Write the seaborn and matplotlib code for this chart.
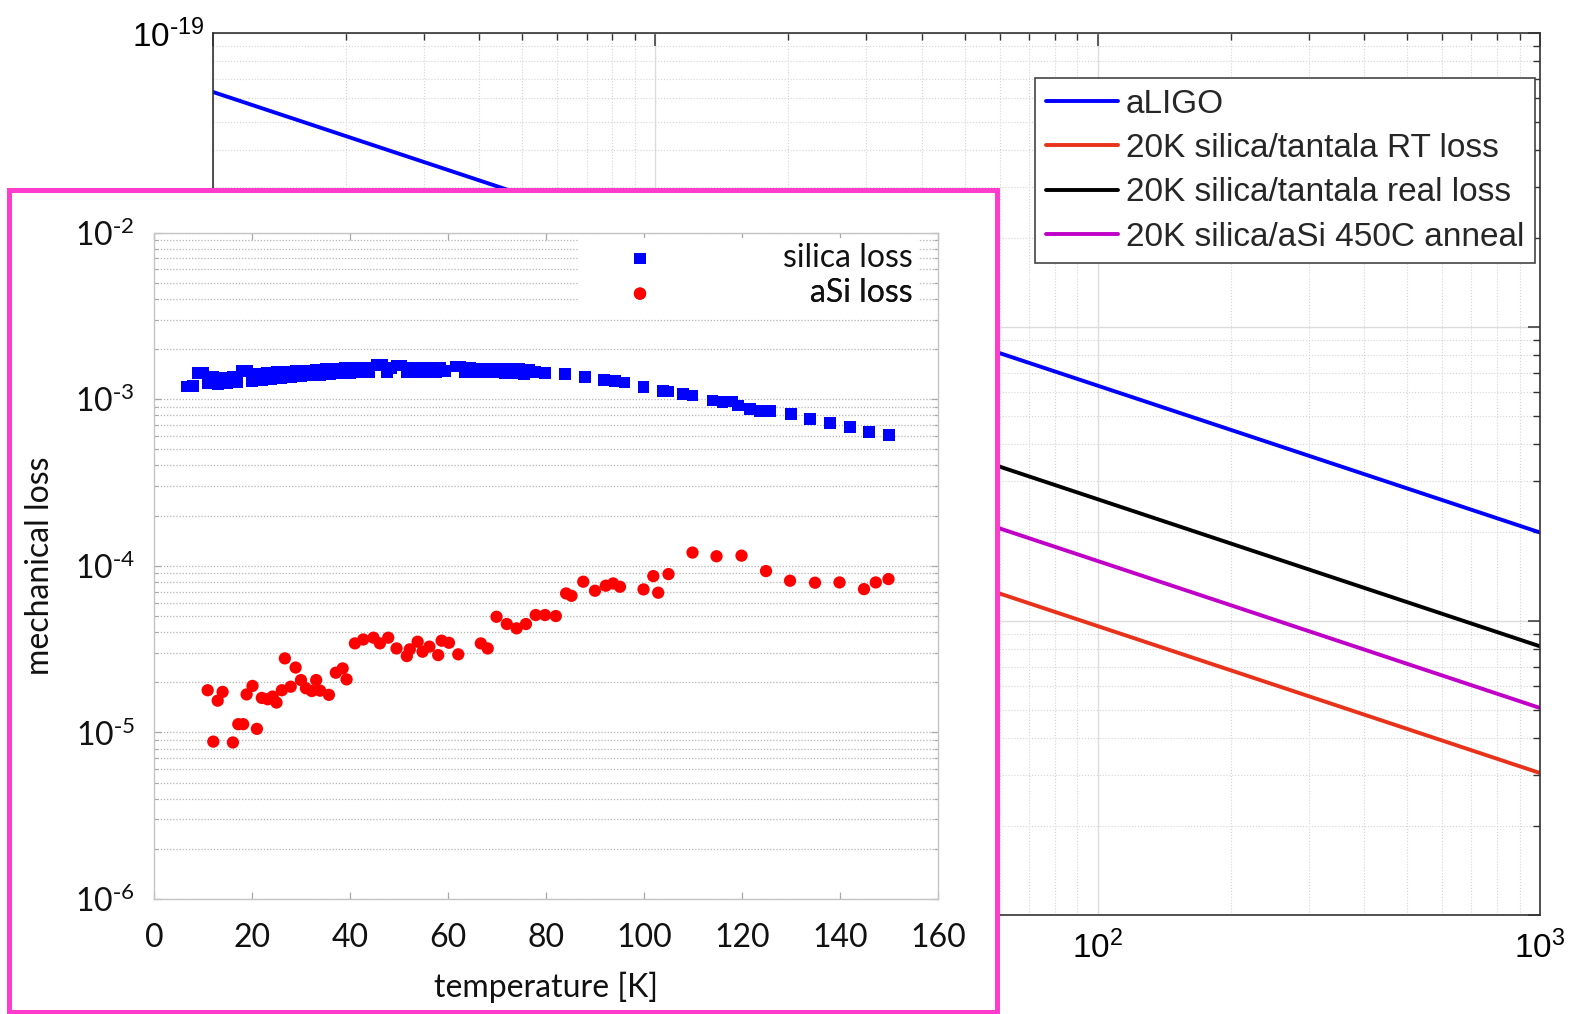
import numpy as np
import matplotlib
matplotlib.use("Agg")
import matplotlib.pyplot as plt
import seaborn as sns
from matplotlib.patches import Rectangle
from matplotlib.ticker import LogLocator, FuncFormatter, NullFormatter

# ---------------- coating thermal noise curves (straight on log-log) ----------------
freq_end = [1, 1000]  # Hz
curve_names = ["aLIGO",
               "20K silica/tantala RT loss",
               "20K silica/tantala real loss",
               "20K silica/aSi 450C anneal"]
curve_colors = ["#0000ff", "#e8321a", "#000000", "#c000c8"]
aligo_noise = [6.3e-20, 2.0e-21]
rt_loss_noise = [9.6e-21, 3.04e-22]
real_loss_noise = [2.6e-20, 8.2e-22]
asi_anneal_noise = [1.6e-20, 5.06e-22]

# ---------------- mechanical loss measurements ----------------
silica_T = [6.7, 8.0, 9.0, 10.0, 11.0, 12.0, 13.0, 14.0, 15.0, 16.0, 17.0, 18.0, 19.0,
            20.0, 21.0, 22.0, 23.0, 24.0, 25.0, 26.0, 27.0, 28.0, 29.0, 30.0, 31.0,
            32.0, 33.0, 34.0, 35.0, 36.0, 37.0, 38.0, 39.0, 40.0, 41.0, 42.0, 43.0,
            44.0, 45.5, 46.5, 47.5, 48.5, 49.5, 50.5, 51.5, 52.5, 53.5, 54.5, 55.5,
            56.5, 57.5, 58.5, 59.5, 61.5, 62.5, 63.5, 64.5, 65.5, 66.5, 67.5, 68.5,
            69.5, 70.5, 71.5, 72.5, 73.5, 74.5, 75.5, 76.5, 77.8, 79.8, 83.9, 88.0,
            91.8, 94.1, 96.0, 99.9, 103.9, 105.0, 108.0, 109.9, 114.0, 116.0, 117.9,
            119.2, 121.6, 123.7, 125.7, 130.0, 133.9, 138.0, 142.0, 145.9, 150.0]
silica_loss = [1.19e-3, 1.20e-3, 1.44e-3, 1.43e-3, 1.25e-3, 1.36e-3, 1.23e-3, 1.35e-3,
               1.24e-3, 1.36e-3, 1.27e-3, 1.48e-3, 1.47e-3, 1.28e-3, 1.42e-3, 1.30e-3,
               1.43e-3, 1.32e-3, 1.45e-3, 1.34e-3, 1.46e-3, 1.36e-3, 1.47e-3, 1.38e-3,
               1.48e-3, 1.39e-3, 1.50e-3, 1.40e-3, 1.51e-3, 1.42e-3, 1.52e-3, 1.43e-3,
               1.54e-3, 1.44e-3, 1.54e-3, 1.45e-3, 1.55e-3, 1.46e-3, 1.60e-3, 1.60e-3,
               1.46e-3, 1.54e-3, 1.59e-3, 1.59e-3, 1.45e-3, 1.54e-3, 1.45e-3, 1.54e-3,
               1.46e-3, 1.55e-3, 1.46e-3, 1.55e-3, 1.47e-3, 1.57e-3, 1.57e-3, 1.46e-3,
               1.54e-3, 1.46e-3, 1.53e-3, 1.46e-3, 1.53e-3, 1.45e-3, 1.52e-3, 1.44e-3,
               1.52e-3, 1.43e-3, 1.51e-3, 1.42e-3, 1.50e-3, 1.46e-3, 1.44e-3, 1.41e-3,
               1.36e-3, 1.30e-3, 1.29e-3, 1.26e-3, 1.18e-3, 1.12e-3, 1.11e-3, 1.07e-3,
               1.05e-3, 9.8e-4, 9.6e-4, 9.66e-4, 9.14e-4, 8.73e-4, 8.51e-4, 8.51e-4,
               8.15e-4, 7.60e-4, 7.16e-4, 6.78e-4, 6.37e-4, 6.10e-4]

asi_T = [10.95, 12.1, 13.0, 14.0, 16.1, 17.2, 18.2, 18.9, 20.1, 21.0,
         22.0, 23.2, 24.2, 25.0, 26.1, 26.7, 27.9, 28.9, 30.0, 31.0,
         32.2, 33.1, 33.9, 35.7, 37.1, 38.5, 39.3, 41.0, 42.7, 44.8,
         46.1, 47.8, 49.5, 51.6, 52.2, 53.8, 54.8, 56.2, 58.0, 58.7,
         60.2, 62.1, 66.7, 68.1, 69.9, 72.0, 74.0, 75.9, 77.9, 79.8,
         82.0, 84.1, 85.2, 87.6, 90.0, 92.2, 93.7, 95.1, 99.9, 101.9,
         102.9, 105.0, 109.9, 114.8, 119.9, 124.9, 129.8, 134.9, 139.9, 144.9,
         147.3, 149.9]
asi_loss = [1.79e-5, 8.8e-6, 1.55e-5, 1.75e-5, 8.7e-6, 1.12e-5, 1.12e-5, 1.69e-5, 1.90e-5, 1.05e-5,
            1.61e-5, 1.58e-5, 1.64e-5, 1.51e-5, 1.79e-5, 2.78e-5, 1.88e-5, 2.45e-5, 2.06e-5, 1.84e-5,
            1.77e-5, 2.06e-5, 1.78e-5, 1.68e-5, 2.28e-5, 2.42e-5, 2.08e-5, 3.42e-5, 3.61e-5, 3.70e-5,
            3.42e-5, 3.70e-5, 3.19e-5, 2.87e-5, 3.15e-5, 3.50e-5, 3.05e-5, 3.27e-5, 2.91e-5, 3.55e-5,
            3.45e-5, 2.94e-5, 3.42e-5, 3.19e-5, 4.94e-5, 4.47e-5, 4.21e-5, 4.47e-5, 5.06e-5, 5.06e-5,
            4.99e-5, 6.82e-5, 6.60e-5, 8.02e-5, 7.08e-5, 7.59e-5, 7.83e-5, 7.48e-5, 7.21e-5, 8.67e-5,
            6.89e-5, 8.91e-5, 1.20e-4, 1.14e-4, 1.15e-4, 9.29e-5, 8.13e-5, 7.91e-5, 7.94e-5, 7.24e-5,
            7.94e-5, 8.32e-5]

temp_ticks = [0, 20, 40, 60, 80, 100, 120, 140, 160]
loss_label = "mechanical loss"
temp_label = "temperature [K]"

# ---------------- style ----------------
sns.set_style("white")
plt.rcParams["font.family"] = ["Liberation Sans", "DejaVu Sans"]
plt.rcParams["axes.unicode_minus"] = False

W, H = 1574, 1014
DPI = 100
fig = plt.figure(figsize=(W / DPI, H / DPI), dpi=DPI)


def px_box(left, top, right, bottom):
    return [left / W, 1 - bottom / H, (right - left) / W, (bottom - top) / H]


def pow10_text(e):
    if e < 0:
        return r"$\mathregular{10^{\text{-}%d}}$" % (-e)
    return r"$\mathregular{10^{%d}}$" % e


def pow10(v, pos):
    return pow10_text(int(round(np.log10(v))))


def pow10_from(lowest):
    # decades below `lowest` sit under the inset panel and stay unlabelled
    def fmt(v, pos):
        if v < lowest * 0.999:
            return ""
        return pow10(v, pos)
    return FuncFormatter(fmt)


# ---------------- main noise spectrum ----------------
ax = fig.add_axes(px_box(213, 33, 1540, 915))
ax.set_zorder(0)
for name, color, vals in zip(curve_names, curve_colors,
                             [aligo_noise, rt_loss_noise, real_loss_noise, asi_anneal_noise]):
    sns.lineplot(x=freq_end, y=vals, color=color, linewidth=2.8, label=name, ax=ax)

ax.set_xscale("log")
ax.set_yscale("log")
ax.set_xlim(1, 1000)
ax.set_ylim(1e-22, 1e-19)
ax.set_xlabel("")
ax.set_ylabel("")
for axis in (ax.xaxis, ax.yaxis):
    axis.set_major_locator(LogLocator(base=10, numticks=10))
    axis.set_minor_locator(LogLocator(base=10, subs=np.arange(2, 10), numticks=30))
    axis.set_minor_formatter(NullFormatter())
ax.xaxis.set_major_formatter(pow10_from(100))
ax.yaxis.set_major_formatter(pow10_from(1e-19))
ax.tick_params(which="both", direction="in", top=True, right=True, colors="#333333",
               labelcolor="black", labelsize=24)
ax.tick_params(which="major", length=9, width=1.1)
ax.tick_params(which="minor", length=5, width=1.0)
ax.tick_params(axis="x", pad=11)
ax.tick_params(axis="y", pad=6)
ax.grid(True, which="major", color="#dcdcdc", linewidth=1.0, linestyle="-")
ax.grid(True, which="minor", color="#d4d4d4", linewidth=0.8, linestyle=":")
for sp in ax.spines.values():
    sp.set_color("#333333")
    sp.set_linewidth(1.2)

leg = ax.legend(loc="upper right", bbox_to_anchor=(0.9962, 0.949), borderaxespad=0,
                fontsize=24, handlelength=2.15, handletextpad=0.25, labelspacing=0.40,
                borderpad=0.32, frameon=True, fancybox=False, framealpha=1,
                edgecolor="#444444", facecolor="white")
leg.get_frame().set_linewidth(1.2)

# ---------------- pink framed inset panel ----------------
panel = Rectangle((9 / W, 2 / H), 988 / W, (1012 - 190) / H, transform=fig.transFigure,
                  facecolor="white", edgecolor="#ff3ccc", linewidth=3.6, zorder=2)
fig.add_artist(panel)

IN_L, IN_T, IN_R, IN_B = 154, 232.5, 938, 899
ax_in = fig.add_axes(px_box(IN_L, IN_T, IN_R, IN_B))
ax_in.set_zorder(3)
ax_in.set_facecolor("white")

sns.scatterplot(x=silica_T, y=silica_loss, marker="s", s=70, color="#0000ff",
                edgecolor="none", linewidth=0, ax=ax_in, legend=False)
sns.scatterplot(x=asi_T, y=asi_loss, marker="o", s=78, color="#ff0000",
                edgecolor="none", linewidth=0, ax=ax_in, legend=False)

ax_in.set_yscale("log")
ax_in.set_xlim(0, 160)
ax_in.set_ylim(1e-6, 1e-2)
ax_in.set_xticks(temp_ticks)
ax_in.yaxis.set_major_locator(LogLocator(base=10, numticks=10))
ax_in.yaxis.set_minor_locator(LogLocator(base=10, subs=np.arange(2, 10), numticks=30))
ax_in.yaxis.set_major_formatter(FuncFormatter(pow10))
ax_in.yaxis.set_minor_formatter(NullFormatter())

IN_FONT = "Lato"
IN_FS = 23
ax_in.tick_params(which="both", direction="in", top=True, right=True, bottom=True, left=True,
                  colors="#a8a8a8", labelcolor="#111111", labelsize=IN_FS,
                  labelfontfamily=IN_FONT)
ax_in.tick_params(which="major", length=5, width=0.9)
ax_in.tick_params(which="minor", length=3, width=0.8)
ax_in.tick_params(axis="x", pad=17)
ax_in.tick_params(axis="y", pad=14)
ax_in.grid(True, which="both", axis="y", color="#b4b4b4", linewidth=0.9, linestyle=(0, (1, 1.5)))
ax_in.grid(False, axis="x")
for sp in ax_in.spines.values():
    sp.set_color("#c4c4c4")
    sp.set_linewidth(1.0)

ax_in.set_xlabel(temp_label, fontsize=IN_FS, family=IN_FONT, color="#111111", labelpad=14)
ax_in.set_ylabel(loss_label, fontsize=IN_FS, family=IN_FONT, color="#111111", labelpad=14)

# white block behind the key entries
ax_in.add_patch(Rectangle((0.541, 0.881), 0.433, 0.111, transform=ax_in.transAxes,
                          facecolor="white", edgecolor="none", zorder=1))

# key entries: marker on the left, text right-aligned at a common edge
renderer = fig.canvas.get_renderer()
fs_px = IN_FS * DPI / 72.0
key_hl = 0.6
key_marker_x = 640
key_right = 913
keys = [(ax_in.collections[0], "silica loss", 258), (ax_in.collections[1], "aSi loss", 293)]
for handle, label, ypx in keys:
    probe = fig.text(0, 0, label, fontsize=IN_FS, family=IN_FONT)
    w = probe.get_window_extent(renderer=renderer).width
    probe.remove()
    pad = (key_right - w - key_marker_x - key_hl * fs_px / 2) / fs_px
    anchor = ((key_marker_x - key_hl * fs_px / 2 - IN_L) / (IN_R - IN_L),
              (IN_B - ypx) / (IN_B - IN_T))
    k = ax_in.legend([handle], [label], loc="center left", bbox_to_anchor=anchor,
                     bbox_transform=ax_in.transAxes, borderaxespad=0, borderpad=0,
                     frameon=False, handlelength=key_hl, handletextpad=pad,
                     scatterpoints=1, prop={"family": IN_FONT, "size": IN_FS})
    for t in k.get_texts():
        t.set_color("#111111")
    ax_in.add_artist(k)

fig.savefig("out.png", dpi=DPI)
